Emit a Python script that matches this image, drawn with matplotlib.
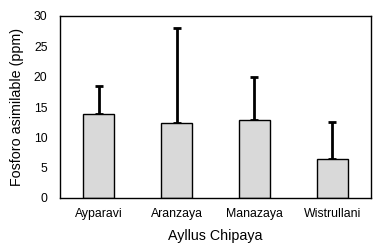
import matplotlib
matplotlib.use("Agg")
import matplotlib.pyplot as plt
import numpy as np

categories = ["Ayparavi", "Aranzaya", "Manazaya", "Wistrullani"]
means = [13.8, 12.3, 12.8, 6.4]
upper = [18.5, 28.0, 19.9, 12.5]
yticks = [0, 5, 10, 15, 20, 25, 30]

plt.rcParams['font.family'] = ['Liberation Sans', 'DejaVu Sans']
fig = plt.figure(figsize=(3.87, 2.5), dpi=100)
ax = fig.add_axes([60/387, 1-198/250, 311/387, 182/250])
x = np.arange(len(categories))
err = np.array(upper) - np.array(means)
ax.bar(x, means, width=0.4, color="#d9d9d9", edgecolor="black", linewidth=1.0, zorder=2)
ax.errorbar(x, means, yerr=[np.zeros(len(x)), err], fmt="none", ecolor="black",
            elinewidth=2, capsize=2.7, capthick=2, zorder=1)
ax.set_xlim(-0.5, len(categories) - 0.5)
ax.set_ylim(0, 30)
ax.set_yticks(yticks)
ax.set_xticks(x)
ax.set_xticklabels(categories)
ax.tick_params(axis="both", length=0, labelsize=8.8)
ax.tick_params(axis="y", pad=9)
ax.tick_params(axis="x", pad=7)
ax.set_xlabel("Ayllus Chipaya", fontsize=10.3, labelpad=7)
ax.set_ylabel("Fosforo asimilable (ppm)", fontsize=10.3, labelpad=7)
for s in ax.spines.values():
    s.set_linewidth(1.0)
fig.savefig("out.png", dpi=100)
